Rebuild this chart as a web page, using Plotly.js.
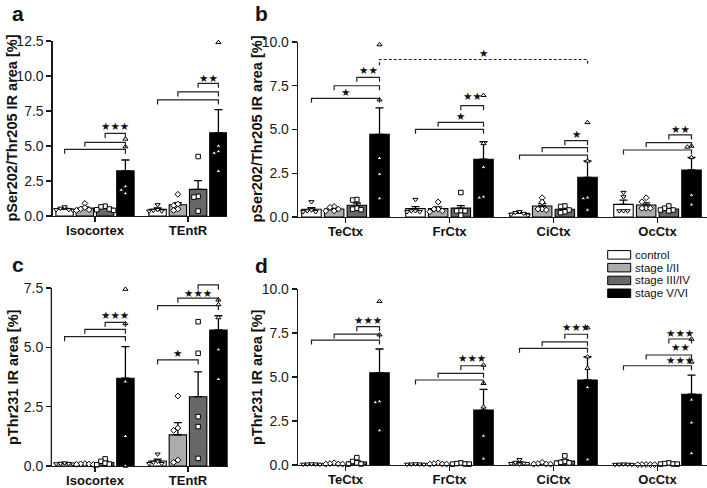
<!DOCTYPE html>
<html><head><meta charset="utf-8">
<script src="https://cdn.plot.ly/plotly-3.0.1.min.js"></script>
<style>html,body{margin:0;padding:0;background:#fff}#chart{width:707px;height:488px}</style>
</head><body><div id="chart"></div>
<script>
// ================= DATA =================
const stages = ['control', 'stage I/II', 'stage III/IV', 'stage V/VI'];
const regionsLeft = ['Isocortex', 'TEntR'];
const regionsRight = ['TeCtx', 'FrCtx', 'CiCtx', 'OcCtx'];

// ---- panel a: pSer202/Thr205, [stage][region]
const aMeans = [[0.50, 0.47], [0.56, 0.80], [0.55, 1.90], [3.22, 5.95]];
const aSems  = [[0.06, 0.10], [0.09, 0.15], [0.06, 0.62], [0.78, 1.65]];
const aPoints = [
  [[0.65, 0.55, 0.45, 0.45, 0.40], [0.80, 0.45, 0.40, 0.35, 0.35]],
  [[0.90, 0.60, 0.50, 0.45, 0.40], [1.55, 0.85, 0.75, 0.50, 0.40]],
  [[0.70, 0.65, 0.50, 0.45, 0.40], [4.25, 1.40, 1.35, 0.35]],
  [[5.50, 4.95, 2.10, 1.85, 1.60], [12.4, 5.00, 4.60, 4.50, 3.20]]
];
const aBrackets = [[0,0,3,4.76],[0,1,3,5.26],[0,2,3,5.90],[1,0,3,8.29],[1,1,3,8.86],[1,2,3,9.48]];
const aStars = [[0,2,3,6.43,'***'],[1,2,3,9.88,'**']];

// ---- panel b: pSer202/Thr205, [stage][region]
const bMeans = [[0.44, 0.48, 0.21, 0.72], [0.46, 0.48, 0.63, 0.69], [0.67, 0.51, 0.44, 0.46], [4.72, 3.30, 2.27, 2.69]];
const bSems  = [[0.09, 0.11, 0.04, 0.25], [0.05, 0.10, 0.14, 0.12], [0.13, 0.14, 0.07, 0.05], [1.52, 1.00, 0.93, 0.72]];
const bPoints = [
  [[0.87, 0.40, 0.35, 0.30, 0.30], [1.00, 0.35, 0.35, 0.30, 0.30], [0.30, 0.25, 0.20, 0.15, 0.10], [1.40, 1.15, 0.35, 0.35, 0.35]],
  [[0.60, 0.55, 0.45, 0.35, 0.35], [0.86, 0.45, 0.45, 0.35, 0.30], [1.10, 0.85, 0.45, 0.45, 0.40], [1.10, 0.87, 0.50, 0.50, 0.50]],
  [[1.00, 0.97, 0.50, 0.45, 0.42], [1.40, 0.35, 0.35, 0.35, 0.10], [0.63, 0.60, 0.40, 0.30, 0.25], [0.63, 0.50, 0.40, 0.40, 0.35]],
  [[9.85, 6.70, 3.35, 2.45, 1.05], [6.95, 4.20, 2.85, 1.15, 1.10], [5.40, 3.20, 1.10, 1.05, 0.40], [4.05, 4.00, 3.40, 1.25, 0.70]]
];
const bBrackets = [[0,0,3,6.78],[0,1,3,7.50],[0,2,3,7.98],[1,0,3,5.01],[1,1,3,5.41],[1,2,3,6.36],
                   [2,0,3,3.54],[2,1,3,3.96],[2,2,3,4.36],[3,0,3,3.83],[3,1,3,4.25],[3,2,3,4.69]];
const bStars = [[0,0,3,7.16,'*'],[0,2,3,8.40,'**'],[1,1,3,5.79,'*'],[1,2,3,6.93,'**'],[2,2,3,4.72,'*'],[3,2,3,5.03,'**']];
const bDashed = [[0,3,2,3,9.0,'*']];

// ---- panel c: pThr231, [stage][region]
const cMeans = [[0.10, 0.21], [0.08, 1.31], [0.15, 2.92], [3.70, 5.73]];
const cSems  = [[0.01, 0.08], [0.01, 0.52], [0.04, 1.05], [1.33, 0.60]];
const cPoints = [
  [[0.13, 0.11, 0.10, 0.09, 0.08], [0.50, 0.20, 0.15, 0.10, 0.10]],
  [[0.10, 0.09, 0.08, 0.07, 0.06], [2.95, 1.60, 1.50, 0.25, 0.15]],
  [[0.30, 0.20, 0.12, 0.08, 0.05], [6.08, 4.75, 2.08, 1.66, 0.32]],
  [[7.45, 6.00, 3.55, 1.25, 0.00], [7.00, 6.80, 6.25, 4.90, 3.65]]
];
const cBrackets = [[0,0,3,5.45],[0,1,3,5.76],[0,2,3,6.05],[1,0,3,6.76],[1,1,3,7.07],[1,2,3,7.63],[1,0,2,4.47]];
const cStars = [[0,2,3,6.36,'***'],[1,1,3,7.30,'***'],[1,2,3,8.05,'*'],[1,0,2,4.78,'*']];

// ---- panel d: pThr231, [stage][region]
const dMeans = [[0.05, 0.05, 0.14, 0.04], [0.07, 0.07, 0.08, 0.03], [0.17, 0.07, 0.22, 0.07], [5.24, 3.12, 4.83, 4.02]];
const dSems  = [[0.01, 0.01, 0.04, 0.01], [0.01, 0.01, 0.02, 0.01], [0.07, 0.01, 0.08, 0.01], [1.35, 1.18, 1.32, 1.09]];
const dPoints = [
  [[0.06, 0.05, 0.05, 0.04, 0.04], [0.06, 0.05, 0.05, 0.04, 0.04], [0.30, 0.15, 0.10, 0.08, 0.05], [0.05, 0.04, 0.04, 0.03, 0.03]],
  [[0.12, 0.08, 0.06, 0.05, 0.05], [0.12, 0.08, 0.06, 0.05, 0.05], [0.15, 0.08, 0.06, 0.05, 0.05], [0.03, 0.03, 0.02, 0.02, 0.02]],
  [[0.42, 0.20, 0.12, 0.06, 0.05], [0.12, 0.08, 0.06, 0.05, 0.05], [0.52, 0.20, 0.15, 0.12, 0.10], [0.12, 0.08, 0.06, 0.05, 0.05]],
  [[9.30, 7.40, 3.60, 3.55, 1.95], [5.68, 4.64, 3.30, 1.65, 0.35], [7.80, 6.15, 5.50, 4.40, 0.30], [7.15, 5.85, 3.70, 2.40, 0.65]]
];
const dBrackets = [[0,0,3,7.10],[0,1,3,7.44],[0,2,3,7.86],[1,0,3,4.83],[1,1,3,5.21],[1,2,3,5.64],
                   [2,0,3,6.63],[2,1,3,7.00],[2,2,3,7.43],[3,0,3,5.64],[3,1,3,6.25],[3,2,3,7.16]];
const dStars = [[0,2,3,8.24,'***'],[1,2,3,6.06,'***'],[2,2,3,7.82,'***'],[3,2,3,5.97,'***'],[3,2,3,6.72,'**'],[3,2,3,7.52,'***']];

const titleSer = 'pSer202/Thr205 IR area [%]';
const titleThr = 'pThr231 IR area [%]';

// ================= STYLE / LAYOUT =================
const W = 707, H = 488;
const FONT = '"Liberation Sans", Arial, Helvetica, sans-serif';
const STARFONT = '"DejaVu Sans", sans-serif';
const fills = ['#ffffff', '#acacac', '#686868', '#000000'];
const symbols = ['triangle-down', 'diamond', 'square', 'triangle-up'];
const barOff = [-0.327, -0.109, 0.109, 0.327];
const barW = 0.187;
const AX = '#1a1a1a';
const starText = t => t.replace(/\*/g, '\u2605');   // asterisks drawn as solid stars, as in the figure

const panels = [
  {letter:'a', ltop:0, lx:18, tx:12, cats:regionsLeft, means:aMeans, sems:aSems, pts:aPoints, br:aBrackets, st:aStars, da:[],
   title:titleSer, px:[52.7,227], firstPx:95, unit:93, py0:216, pyTick:41, yTick:12.5, yMax:12.5, manualLine:false},
  {letter:'b', ltop:0, lx:261, tx:256, cats:regionsRight, means:bMeans, sems:bSems, pts:bPoints, br:bBrackets, st:bStars, da:bDashed,
   title:titleSer, px:[298,707], firstPx:345.5, unit:104, py0:217, pyTick:42, yTick:10, yMax:10, manualLine:false},
  {letter:'c', ltop:251, lx:18, tx:13, cats:regionsLeft, means:cMeans, sems:cSems, pts:cPoints, br:cBrackets, st:cStars, da:[],
   title:titleThr, px:[52,228], firstPx:95, unit:93, py0:466, pyTick:288, yTick:7.5, yMax:7.75, manualLine:true},
  {letter:'d', ltop:252, lx:261, tx:257, cats:regionsRight, means:dMeans, sems:dSems, pts:dPoints, br:dBrackets, st:dStars, da:[],
   title:titleThr, px:[298,707], firstPx:345.5, unit:104, py0:465, pyTick:289, yTick:10, yMax:10, manualLine:false}
];

const traces = [], shapes = [], annotations = [];
const layout = {
  width: W, height: H, margin: {l:0, r:0, t:0, b:0},
  paper_bgcolor: '#ffffff', plot_bgcolor: 'rgba(0,0,0,0)',
  showlegend: false, barmode: 'overlay',
  font: {family: FONT, color: AX},
  shapes: shapes, annotations: annotations
};

// simple beeswarm: spread points sideways (in px) so markers do not sit on each other
function swarm(vals, sy) {
  const placed = [], out = [];
  const cands = [0, -4.2, 4.2, -8.4, 8.4, -12.6, 12.6];
  vals.forEach(v => {
    let chosen = cands[cands.length - 1];
    for (const c of cands) {
      if (placed.every(p => Math.hypot(p.dx - c, (p.v - v) * sy) >= 4.2)) { chosen = c; break; }
    }
    placed.push({dx: chosen, v: v});
    out.push(chosen);
  });
  return out;
}

panels.forEach((P, pi) => {
  const sfx = pi === 0 ? '' : String(pi + 1);
  const xa = 'x' + sfx, ya = 'y' + sfx;
  const sy = (P.py0 - P.pyTick) / P.yTick;          // px per y unit
  const topPx = P.py0 - P.yMax * sy;
  const xr0 = -(P.firstPx - P.px[0]) / P.unit;
  const xr1 = xr0 + (P.px[1] - P.px[0]) / P.unit;

  layout['xaxis' + sfx] = {
    domain: [P.px[0] / W, P.px[1] / W], range: [xr0, xr1], anchor: ya,
    tickvals: P.cats.map((_, g) => g), ticktext: P.cats,
    ticks: 'outside', ticklen: 5, tickwidth: 1.3, tickcolor: AX, ticklabelstandoff: -3,
    showline: true, linewidth: 1.3, linecolor: AX,
    showgrid: false, zeroline: false, fixedrange: true,
    tickfont: {family: FONT, size: 13, weight: 'bold', color: '#111'}
  };
  layout['yaxis' + sfx] = {
    domain: [(H - P.py0) / H, (H - topPx) / H], range: [0, P.yMax], anchor: xa,
    tick0: 0, dtick: 2.5, tickformat: '.1f',
    ticks: 'outside', ticklen: 5, tickwidth: 1.3, tickcolor: AX,
    showline: !P.manualLine, linewidth: 1.3, linecolor: AX,
    showgrid: false, zeroline: false, fixedrange: true,
    tickfont: {family: FONT, size: 14, color: AX}
  };
  if (P.manualLine) {
    shapes.push({type: 'line', xref: 'paper', yref: 'paper',
      x0: (P.px[0] - 0.65) / W, x1: (P.px[0] - 0.65) / W,
      y0: (H - P.py0 - 0.65) / H, y1: (H - P.pyTick) / H,
      line: {color: AX, width: 1.3}});
  }
  // y-axis title (placed like the figure, tight to the tick labels)
  annotations.push({xref: 'paper', yref: 'paper', x: P.tx / W, y: (H - (P.py0 + P.pyTick) / 2) / H,
    text: P.title, textangle: -90, showarrow: false, xanchor: 'center', yanchor: 'middle',
    font: {family: FONT, size: 14.5, weight: 'bold', color: '#111'}});

  // bars with one-sided SEM error bars
  stages.forEach((sname, s) => {
    traces.push({
      type: 'bar', name: sname, xaxis: xa, yaxis: ya,
      x: P.cats.map((_, g) => g + barOff[s]), y: P.means[s], width: barW,
      marker: {color: fills[s], line: {color: '#000', width: 1.1}},
      error_y: {type: 'data', symmetric: false, array: P.sems[s], arrayminus: P.sems[s].map(() => 0),
                color: '#000', thickness: 1.3, width: 4},
      hoverinfo: 'skip'
    });
  });
  // individual points
  stages.forEach((sname, s) => {
    const xs = [], ys = [];
    P.pts[s].forEach((vals, g) => {
      const off = swarm(vals, sy);
      vals.forEach((v, k) => { xs.push(g + barOff[s] + off[k] / P.unit); ys.push(v); });
    });
    traces.push({
      type: 'scatter', mode: 'markers', name: sname + ' cases', xaxis: xa, yaxis: ya,
      x: xs, y: ys, cliponaxis: false,
      marker: {symbol: symbols[s], size: 4.5, color: '#fff', line: {color: '#000', width: 1}},
      hoverinfo: 'skip'
    });
  });

  // significance brackets
  const drop = 4.5 / sy;
  const starFont = {family: STARFONT, size: 10.5, color: '#111'};
  P.br.forEach(([g, a, b, y]) => {
    const x1 = g + barOff[a], x2 = g + barOff[b];
    shapes.push({type: 'path', xref: xa, yref: ya,
      path: `M${x1},${y - drop} L${x1},${y} L${x2},${y} L${x2},${y - drop}`,
      line: {color: '#222', width: 1.2}});
  });
  P.da.forEach(([g1, s1, g2, s2, y, txt]) => {
    const x1 = g1 + barOff[s1], x2 = g2 + barOff[s2];
    shapes.push({type: 'path', xref: xa, yref: ya,
      path: `M${x1},${y - drop * 1.3} L${x1},${y} L${x2},${y} L${x2},${y - drop}`,
      line: {color: '#222', width: 1.2, dash: '3px,2px'}});
    annotations.push({xref: xa, yref: ya, x: (x1 + x2) / 2, y: y + 7 / sy, text: starText(txt), showarrow: false,
      xanchor: 'center', yanchor: 'middle', font: starFont});
  });
  P.st.forEach(([g, a, b, y, txt]) => {
    annotations.push({xref: xa, yref: ya, x: g + (barOff[a] + barOff[b]) / 2, y: y, text: starText(txt), showarrow: false,
      xanchor: 'center', yanchor: 'middle', font: starFont});
  });

  // panel letter
  annotations.push({xref: 'paper', yref: 'paper', x: P.lx / W, y: (H - P.ltop) / H, text: P.letter,
    showarrow: false, xanchor: 'center', yanchor: 'top',
    font: {family: FONT, size: 21, weight: 'bold', color: '#111'}});
});

// legend (drawn in panel d's upper right)
const legTop = [250.6, 263.4, 276.2, 289.0];
stages.forEach((sname, s) => {
  shapes.push({type: 'rect', xref: 'paper', yref: 'paper',
    x0: 607.7 / W, x1: 630.7 / W, y0: (H - legTop[s] - 8.5) / H, y1: (H - legTop[s]) / H,
    fillcolor: fills[s], line: {color: '#000', width: 1}});
  annotations.push({xref: 'paper', yref: 'paper', x: 632.5 / W, y: (H - legTop[s] - 4.25) / H, text: sname,
    showarrow: false, xanchor: 'left', yanchor: 'middle',
    font: {family: FONT, size: 11.5, color: '#111'}});
});

Plotly.newPlot('chart', traces, layout, {staticPlot: true, displayModeBar: false});
</script></body></html>
